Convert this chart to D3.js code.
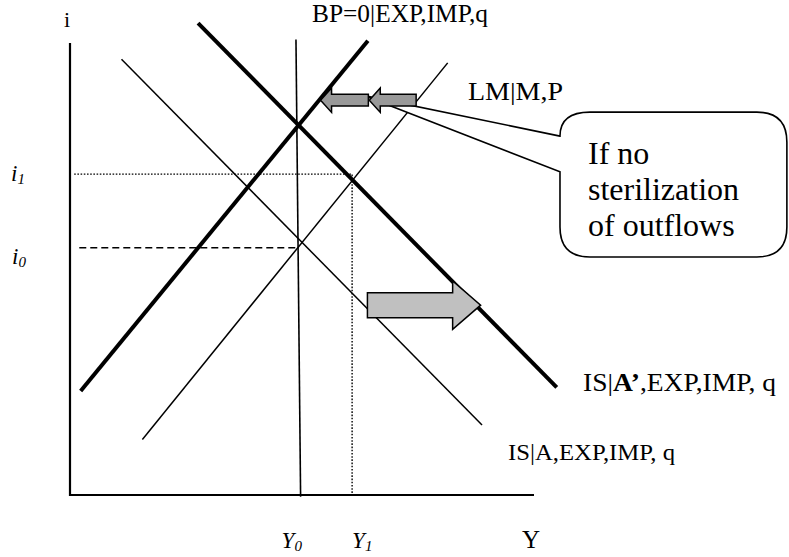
<!DOCTYPE html>
<html>
<head>
<meta charset="utf-8">
<script src="https://cdn.jsdelivr.net/npm/d3@7"></script>
<style>
  html, body { margin: 0; padding: 0; background: #fff; }
  text, tspan { font-family: "Liberation Serif", "Times New Roman", serif; fill: #000; }
</style>
</head>
<body>
<svg id="chart" width="789" height="557"></svg>
<script>
// curves: output Y and interest rate i at both ends
const curveNames = ["IS", "IS'", "LM", "LM'", "BP"];
const curveY = [[11.1, 88.8], [27.6, 104.9], [81.4, 15.6], [64.2, 2.3], [48.7, 49.7]];
const curveI = [[96.4, 15.5], [104.4, 23.8], [95.6, 12.3], [100.5, 23.0], [100.8, -0.4]];

// equilibria 0 and 1
const eqNames = ["0", "1"];
const eqY = [49.7, 60.8];
const eqI = [54.7, 71.0];

// shift arrows, tail -> tip
const shiftFrom = [64.3, 74.6, 64.1];
const shiftTo = [54.0, 64.5, 88.5];
const shiftI = [87.35, 87.35, 42.0];

// callout
const calloutText = ["If no", "sterilization", "of outflows"];
const calloutTip = [63.6, 88.3];
const calloutBoxY = [105.6, 154.5];
const calloutBoxI = [84.7, 52.65];
const calloutAttachI = [79.4, 71.5];

const serif = "'Liberation Serif', 'Times New Roman', serif";
const svg = d3.select("#chart");

let x = d3.scaleLinear().domain([0, 100]).range([70, 534]);
let y = d3.scaleLinear().domain([0, 100]).range([495, 43]);

// line styles
const curveWidth = {"IS": 1.5, "IS'": 4, "LM": 1.5, "LM'": 4, "BP": 1.6};
const arrowStyle = [
    {shaft: 5.9, head: 12.2, len: 11, fill: "#999999"},
    {shaft: 5.9, head: 12.2, len: 11, fill: "#999999"},
    {shaft: 12.5, head: 24.2, len: 28, fill: "#c0c0c0"}
];

let line = d3.line()
             .x(function (d) { return x(d[0]); })
             .y(function (d) { return y(d[1]); });

// axes
svg.append("path")
   .attr("d", line([[0, 100], [0, 0], [100, 0]]))
   .attr("fill", "none")
   .attr("stroke", "#000")
   .attr("stroke-width", 2.2);

// guides for i0 (dashed) and i1 (dotted)
svg.append("path")
   .attr("d", line([[2, eqI[0]], [eqY[0] - 0.6, eqI[0]]]))
   .attr("stroke", "#000").attr("stroke-width", 1.6)
   .attr("stroke-dasharray", "7,4");

svg.append("path")
   .attr("d", line([[0.9, eqI[1]], [eqY[1], eqI[1]], [eqY[1], 0]]))
   .attr("fill", "none")
   .attr("stroke", "#000").attr("stroke-width", 1.4)
   .attr("stroke-dasharray", "1.6,1.6");

// curves
svg.selectAll(".curve")
   .data(curveNames)
   .enter()
   .append("path")
   .attr("class", "curve")
   .attr("d", function (d, k) {
       return line([[curveY[k][0], curveI[k][0]], [curveY[k][1], curveI[k][1]]]);
   })
   .attr("stroke", "#000")
   .attr("stroke-width", function (d) { return curveWidth[d]; });

// callout bubble
let bx0 = x(calloutBoxY[0]), bx1 = x(calloutBoxY[1]);
let by0 = y(calloutBoxI[0]), by1 = y(calloutBoxI[1]);
let r = 30;
let bubble = d3.path();
bubble.moveTo(bx0, y(calloutAttachI[0]));
bubble.lineTo(x(calloutTip[0]), y(calloutTip[1]));
bubble.lineTo(bx0, y(calloutAttachI[1]));
bubble.lineTo(bx0, by1 - r);
bubble.quadraticCurveTo(bx0, by1, bx0 + r, by1);
bubble.lineTo(bx1 - r, by1);
bubble.quadraticCurveTo(bx1, by1, bx1, by1 - r);
bubble.lineTo(bx1, by0 + r);
bubble.quadraticCurveTo(bx1, by0, bx1 - r, by0);
bubble.lineTo(bx0 + r, by0);
bubble.quadraticCurveTo(bx0, by0, bx0, y(calloutAttachI[0]));
bubble.closePath();

svg.append("path")
   .attr("d", bubble.toString())
   .attr("fill", "#fff")
   .attr("stroke", "#000")
   .attr("stroke-width", 1.6);

svg.append("text")
   .attr("font-family", serif)
   .attr("x", bx0 + 28)
   .attr("y", by0 + 52)
   .attr("font-size", 32)
   .selectAll("tspan")
   .data(calloutText)
   .enter()
   .append("tspan")
   .attr("font-family", serif)
   .attr("x", bx0 + 28)
   .attr("dy", function (d, k) { return k === 0 ? 0 : 36; })
   .text(function (d) { return d; });

// shift arrows
svg.selectAll(".shift")
   .data(shiftI)
   .enter()
   .append("path")
   .attr("class", "shift")
   .attr("d", function (d, k) {
       let s = arrowStyle[k];
       let xa = x(shiftFrom[k]), xt = x(shiftTo[k]), yc = y(d);
       let dir = xt > xa ? 1 : -1;
       let xb = xt - dir * s.len;
       return "M" + xa + "," + (yc - s.shaft) +
              "L" + xb + "," + (yc - s.shaft) +
              "L" + xb + "," + (yc - s.head) +
              "L" + xt + "," + yc +
              "L" + xb + "," + (yc + s.head) +
              "L" + xb + "," + (yc + s.shaft) +
              "L" + xa + "," + (yc + s.shaft) + "Z";
   })
   .attr("fill", function (d, k) { return arrowStyle[k].fill; })
   .attr("stroke", "#000")
   .attr("stroke-width", 1.5)
   .attr("stroke-linejoin", "miter");

// labels
function label(px, py, size, str) {
    return svg.append("text").attr("font-family", serif)
              .attr("x", px).attr("y", py).attr("font-size", size).text(str);
}
label(64, 27, 22, "i");
label(312, 22, 25, "BP=0|EXP,IMP,q")
   .attr("textLength", 176).attr("lengthAdjust", "spacingAndGlyphs");
label(468, 100, 26, "LM|M,P")
   .attr("textLength", 95).attr("lengthAdjust", "spacingAndGlyphs");

let isA2 = label(583, 391, 25, null)
              .attr("textLength", 193).attr("lengthAdjust", "spacingAndGlyphs");
isA2.append("tspan").text("IS|");
isA2.append("tspan").attr("font-weight", "bold").text("A\u2019");
isA2.append("tspan").text(",EXP,IMP, q");

label(508, 460, 24, "IS|A,EXP,IMP, q")
   .attr("textLength", 167).attr("lengthAdjust", "spacingAndGlyphs");

label(522, 548, 25, "Y");

// subscripted italic labels
function subLabel(px, py, base, sub) {
    let t = label(px, py, 23, null).attr("font-style", "italic");
    t.append("tspan").text(base);
    t.append("tspan").attr("font-size", 15).attr("dy", 3).text(sub);
}
subLabel(11, 181, "i", eqNames[1]);
subLabel(12, 264, "i", eqNames[0]);
subLabel(x(eqY[0]) - 19, 548, "Y", eqNames[0]);
subLabel(x(eqY[1]), 548, "Y", eqNames[1]);
</script>
</body>
</html>
